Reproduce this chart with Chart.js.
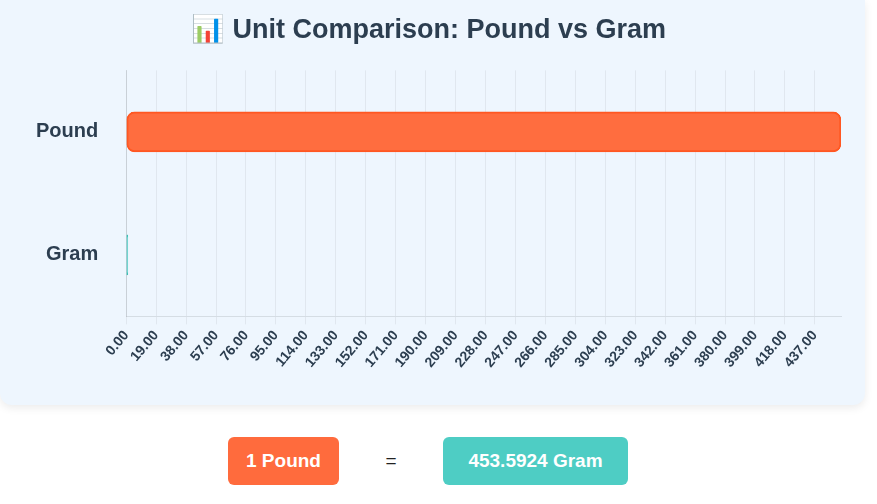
<!DOCTYPE html>
<html>
<head>
<meta charset="utf-8">
<script src="https://cdn.jsdelivr.net/npm/chart.js@4"></script>
<style>
  body { margin: 0; background: #fff; font-family: "Liberation Sans", Arial, sans-serif; }
  .card { position: absolute; left: 0; top: 0; width: 865px; height: 405px; background: #eef6fe;
          border-radius: 0 0 12px 12px; box-shadow: 0 3px 8px rgba(0,0,0,0.08); }
  .wrap { position: absolute; left: 0; top: 0; width: 865px; height: 400px; }
  .result { position: absolute; top: 437px; left: 0; width: 877px; height: 48px; }
  .badge { position: absolute; top: 0; height: 48px; line-height: 48px; border-radius: 6px; color: #fff;
           font-weight: bold; font-size: 19px; text-align: center; }
  .eq { position: absolute; left: 380px; top: 0; line-height: 48px; font-size: 19px; color: #222; width: 22px; text-align: center; }
</style>
</head>
<body>
<div class="card"><div class="wrap"><canvas id="chart"></canvas></div></div>
<div class="result">
  <div class="badge" style="left:228px;width:111px;background:#ff6b3d;">1 Pound</div>
  <div class="eq">=</div>
  <div class="badge" style="left:443px;width:185px;background:#4ecdc4;">453.5924 Gram</div>
</div>
<script>
const categories = ["Pound", "Gram"];
const values = [453.5924, 1];
const barColors = ["#ff6d3f", "#4ecdc4"];
const borderColors = ["#ff5722", "#3dbdb4"];
const tickStep = 19;

new Chart(document.getElementById("chart"), {
  type: "bar",
  data: {
    labels: categories,
    datasets: [{
      data: values,
      backgroundColor: barColors,
      borderColor: borderColors,
      borderWidth: 2,
      borderRadius: 8,
      borderSkipped: false,
      barThickness: 40,
    }],
  },
  options: {
    indexAxis: "y",
    responsive: true,
    maintainAspectRatio: false,
    animation: false,
    layout: { padding: { left: 16, right: 24, top: 0, bottom: 26 } },
    plugins: {
      legend: { display: false },
      title: {
        display: true,
        text: "📊 Unit Comparison: Pound vs Gram",
        color: "#2c3e50",
        font: { size: 27, weight: "bold", family: "Liberation Sans" },
        padding: { top: 14, bottom: 24 },
      },
    },
    scales: {
      x: {
        min: 0,
        max: 453.5924,
        afterBuildTicks: (axis) => {
          axis.ticks = axis.ticks.filter(t => Math.abs(t.value / tickStep - Math.round(t.value / tickStep)) < 1e-6);
        },
        ticks: {
          stepSize: tickStep,
          maxRotation: 50,
          minRotation: 50,
          color: "#2c3e50",
          font: { size: 14, weight: "bold", family: "Liberation Sans" },
          callback: (v) => Number(v).toFixed(2),
        },
        grid: { color: "rgba(0,0,0,0.06)" },
      },
      y: {
        ticks: {
          color: "#2c3e50",
          padding: 20,
          font: { size: 20, weight: "bold", family: "Liberation Sans" },
        },
        grid: { display: false },
      },
    },
  },
});
</script>
</body>
</html>
